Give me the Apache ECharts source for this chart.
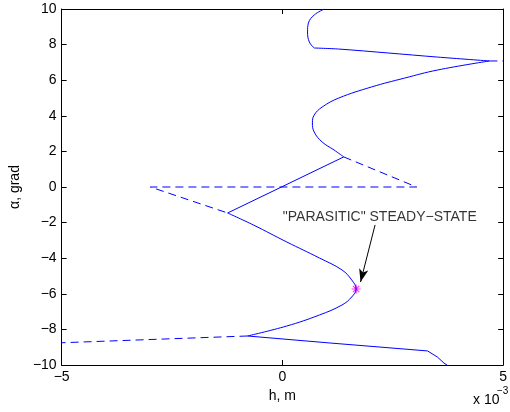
<!DOCTYPE html>
<html>
<head>
<meta charset="utf-8">
<script src="https://cdn.jsdelivr.net/npm/echarts@6/dist/echarts.min.js"></script>
<style>
  html, body { margin: 0; padding: 0; background: #fff; }
  #chart { width: 510px; height: 412px; }
</style>
</head>
<body>
<div id="chart"></div>
<script>
// h in units of 1e-3 m, alpha in grad
const topArc = [[0.95, 10.0], [0.72, 9.66], [0.59, 9.21], [0.57, 8.71], [0.61, 8.15], [0.72, 7.81]];
const upperBranch = [[0.72, 7.81], [1.28, 7.75], [2.39, 7.53], [3.51, 7.30], [4.69, 7.08]];
const upperArc = [
  [4.69, 7.08], [3.51, 6.57], [2.77, 6.12], [2.02, 5.62], [1.28, 5.0], [0.90, 4.49],
  [0.72, 4.04], [0.68, 3.60], [0.72, 3.09], [0.90, 2.53], [1.17, 2.08], [1.39, 1.69]
];
const crossLine = [[1.39, 1.69], [-1.24, -1.46]];
const lowerArc = [
  [-1.24, -1.46], [-0.66, -2.13], [0.10, -3.09], [0.84, -3.99], [1.35, -4.66],
  [1.57, -5.22], [1.67, -5.73], [1.57, -6.18], [1.35, -6.63], [0.84, -7.19],
  [0.10, -7.81], [-0.79, -8.37]
];
const bottomBranch = [[-0.79, -8.37], [1.06, -8.76], [3.29, -9.21], [3.51, -9.55], [3.66, -9.89], [3.73, -10]];
const dashMiddle = [[1.39, 1.69], [3.04, 0], [-2.99, 0], [-1.24, -1.46]];
const dashBottom = [[-0.79, -8.37], [-5, -8.75]];
const dashTop = [[4.69, 7.08], [5, 7.08]];
const steadyState = [[1.67, -5.73]];
const arrowFrom = [2.10, -2.13];
const arrowTo = [1.77, -5.34];
const labelAt = [[0.01, -1.69]];
const labelText = '"PARASITIC" STEADY\u2212STATE';

const font = 'Liberation Sans, Arial, Helvetica, sans-serif';
const blue = '#0000ff';
const minus = v => (v < 0 ? '\u2212' + Math.abs(v) : String(v));

const chart = echarts.init(document.getElementById('chart'));

const axisLine = { show: true, onZero: false, lineStyle: { color: '#000', width: 1 } };
const tick = { show: true, inside: true, length: 5, lineStyle: { color: '#000' } };

const solid = (data, smooth) => ({
  type: 'line', data, symbol: 'none', smooth,
  lineStyle: { color: blue, width: 1 }
});
const dashed = data => ({
  type: 'line', data, symbol: 'none',
  lineStyle: { color: blue, width: 1, type: [8, 5] }
});

chart.setOption({
  animation: false,
  backgroundColor: '#fff',
  grid: { left: 58, right: 3, top: 9, bottom: 47 },
  xAxis: [
    {
      type: 'value', min: -5, max: 5, interval: 5,
      name: 'h, m', nameLocation: 'middle', nameGap: 21,
      nameTextStyle: { fontFamily: font, fontSize: 14, color: '#000' },
      axisLine, axisTick: tick, splitLine: { show: false },
      axisLabel: { fontFamily: font, fontSize: 14, color: '#000', margin: 5, formatter: minus }
    },
    {
      type: 'value', position: 'top', min: -5, max: 5, interval: 5,
      axisLine, axisTick: tick, splitLine: { show: false }, axisLabel: { show: false }
    }
  ],
  yAxis: [
    {
      type: 'value', min: -10, max: 10, interval: 2,
      name: '\u03b1, grad', nameLocation: 'middle', nameGap: 36, nameRotate: 90,
      nameTextStyle: { fontFamily: font, fontSize: 14, color: '#000' },
      axisLine, axisTick: tick, splitLine: { show: false },
      axisLabel: { fontFamily: font, fontSize: 14, color: '#000', margin: 5, formatter: minus }
    },
    {
      type: 'value', position: 'right', min: -10, max: 10, interval: 2,
      axisLine, axisTick: tick, splitLine: { show: false }, axisLabel: { show: false }
    }
  ],
  graphic: [
    { type: 'text', left: 473, top: 393, style: { text: 'x 10', font: '14px ' + font, fill: '#000' } },
    { type: 'text', left: 497, top: 386, style: { text: '\u22123', font: '10px ' + font, fill: '#000' } }
  ],
  series: [
    solid(topArc, 0.4),
    solid(upperBranch, 0.3),
    solid(upperArc, 0.4),
    solid(crossLine, false),
    solid(lowerArc, 0.4),
    Object.assign(solid(bottomBranch, false), {
      markLine: {
        silent: true, symbol: ['none', 'arrow'], symbolSize: [7, 13],
        label: { show: false },
        lineStyle: { color: '#000', width: 1, type: 'solid' },
        data: [[{ coord: arrowFrom }, { coord: arrowTo }]]
      }
    }),
    dashed(dashMiddle),
    dashed(dashBottom),
    dashed(dashTop),
    {
      type: 'scatter', data: steadyState, symbolSize: 9,
      symbol: 'path://M10,0L10,20M0,10L20,10M3,3L17,17M17,3L3,17',
      itemStyle: { color: 'none', borderColor: '#ff00ff', borderWidth: 1.2 }
    },
    {
      type: 'scatter', data: labelAt, symbolSize: 0,
      label: {
        show: true, position: [0, 0], align: 'left', verticalAlign: 'middle',
        formatter: labelText, fontFamily: font, fontSize: 14, color: '#000'
      }
    }
  ]
});
</script>
</body>
</html>
